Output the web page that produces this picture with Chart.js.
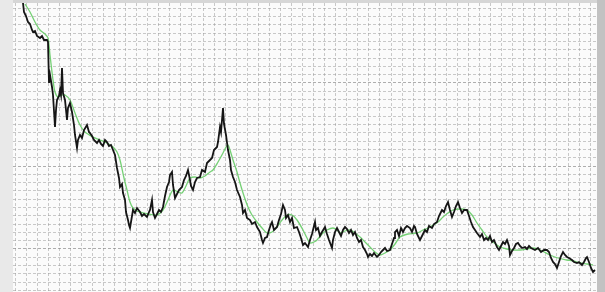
<!DOCTYPE html>
<html>
<head>
<meta charset="utf-8">
<script src="https://cdn.jsdelivr.net/npm/chart.js@4"></script>
<style>
  html, body { margin: 0; padding: 0; background: #e9e9e9; }
  #wrap { width: 605px; height: 292px; position: relative; }
</style>
</head>
<body>
<div id="wrap"><canvas id="chart"></canvas></div>
<script>
// price series (black)
var priceTime = [10,11,13,15,17,19,20,22,24,27,29,31,34,35,36,37,39,40,42,43,44,46,47,48,49,50,52,54,55,57,59,61,62,64,65,67,69,71,74,76,77,79,81,84,86,88,90,92,94,96,98,100,102,104,106,107,109,110,112,113,115,116,117,118,120,122,124,127,129,131,134,136,137,139,140,142,144,146,148,150,152,154,156,157,159,160,162,164,166,169,171,173,175,177,178,180,182,184,187,189,192,194,197,199,201,204,205,207,208,210,211,213,215,217,218,220,222,224,227,229,230,232,234,237,239,242,244,247,249,250,252,254,256,258,259,261,264,266,268,270,272,273,275,277,279,281,284,286,288,290,292,295,297,299,302,303,305,307,309,312,314,316,319,320,322,324,326,328,330,332,334,336,338,340,342,344,346,348,350,352,354,355,357,359,361,364,366,368,370,372,374,377,379,381,382,384,386,388,390,392,394,397,399,401,402,404,406,407,409,411,412,414,416,419,421,424,426,428,429,431,433,435,437,439,441,443,445,447,449,451,454,456,458,460,462,464,467,469,471,473,475,477,479,481,484,486,488,490,492,494,496,497,499,501,503,505,507,509,512,514,516,518,522,525,528,531,534,536,538,540,542,544,546,548,550,552,554,556,559,561,564,566,569,571,573,574,576,578,580,582];
var priceValue = [289,280,276,270,268,262,260,261,256,254,256,252,252,250,209,217,205,197,165,182,192,196,202,197,224,199,192,172,184,189,180,167,157,144,152,157,154,162,167,160,159,156,152,149,152,148,146,152,150,146,147,142,137,124,114,105,108,99,92,80,72,67,64,70,82,79,84,80,76,78,75,80,82,92,80,74,78,82,80,85,96,105,110,117,120,107,94,98,102,105,112,116,122,112,106,102,110,114,115,122,120,129,132,134,142,145,150,165,160,184,168,157,142,132,122,115,110,102,95,87,79,82,74,72,68,70,65,60,52,49,54,55,62,68,70,62,65,72,78,87,82,74,77,70,74,64,65,60,54,47,49,45,52,58,70,62,64,56,60,65,58,52,44,52,60,64,60,56,62,65,63,59,62,57,60,54,50,52,45,42,38,35,38,36,39,35,37,40,42,44,41,42,48,54,60,62,56,64,60,64,66,64,60,66,65,58,54,52,56,60,62,60,66,64,68,70,76,80,82,80,86,90,82,75,80,86,90,84,79,82,82,76,70,65,62,59,55,58,52,54,52,56,50,52,45,42,46,50,48,52,46,37,41,44,48,49,46,44,45,43,46,44,42,44,40,42,42,40,34,30,28,24,30,36,40,37,35,34,32,30,29,30,27,30,34,35,30,24,20,22];

// moving average (green)
var avgTime = [12,17,22,27,32,35,37,40,42,45,49,52,57,62,67,72,80,87,94,100,104,107,111,114,117,120,124,127,135,144,150,155,160,165,169,173,177,182,187,192,197,200,205,210,213,215,217,220,224,227,231,235,239,244,249,254,259,264,269,274,279,284,290,294,297,301,304,309,314,320,324,327,332,337,342,347,352,357,362,367,372,377,382,387,395,404,410,415,420,425,430,435,440,447,454,459,464,469,474,480,487,494,500,507,514,520,527,537,545,554,560,567,574,580];
var avgValue = [288,280,270,262,258,254,237,212,200,195,197,197,192,179,167,160,155,152,149,145,140,132,114,102,90,84,81,80,78,77,82,92,102,100,99,106,114,115,114,116,120,122,130,139,145,147,142,132,120,109,96,85,77,70,64,59,60,65,72,77,77,72,62,54,49,50,52,58,62,64,62,59,61,62,59,55,50,45,40,37,39,42,48,55,58,59,62,64,67,70,75,79,82,83,82,77,69,62,55,50,45,43,42,42,43,44,42,37,34,32,31,29,28,27];

// grid steps
var xGridStart = 2, xGridStep = 11.06, xGridCount = 53;
var yGridStart = 1.5, yGridStep = 8.3, yGridCount = 35;

function pairs(xs, ys) {
  return xs.map(function (x, i) { return { x: x, y: ys[i] }; });
}

var backdrop = {
  id: 'backdrop',
  beforeDraw: function (chart) {
    var c = chart.ctx, a = chart.chartArea;
    c.save();
    c.fillStyle = '#e9e9e9';
    c.fillRect(0, 0, chart.width, chart.height);
    c.fillStyle = '#d6d6d6';
    c.fillRect(a.left, 0, chart.width - a.left, a.top);
    c.fillStyle = '#c2c2c2';
    c.fillRect(a.right, 0, chart.width - a.right, chart.height);
    c.fillStyle = '#fbfbfb';
    c.fillRect(a.left, a.top, a.right - a.left, a.bottom - a.top);
    c.restore();
  }
};

new Chart(document.getElementById('chart'), {
  type: 'line',
  data: {
    datasets: [
      {
        label: 'price',
        data: pairs(priceTime, priceValue),
        borderColor: '#151515',
        borderWidth: 1.8,
        pointRadius: 0,
        tension: 0,
        order: 1
      },
      {
        label: 'average',
        data: pairs(avgTime, avgValue),
        borderColor: 'rgba(110,205,110,0.95)',
        borderWidth: 1.3,
        pointRadius: 0,
        tension: 0.3,
        order: 2
      }
    ]
  },
  options: {
    responsive: true,
    maintainAspectRatio: false,
    animation: false,
    layout: { padding: { left: 13, top: 3, right: 8, bottom: 0 } },
    plugins: { legend: { display: false }, tooltip: { enabled: false } },
    scales: {
      x: {
        type: 'linear',
        min: 0,
        max: 584,
        afterBuildTicks: function (scale) {
          var t = [];
          for (var k = 0; k < xGridCount; k++) t.push({ value: xGridStart + k * xGridStep });
          scale.ticks = t;
        },
        ticks: { display: false },
        grid: { color: 'rgba(150,150,150,0.5)', lineWidth: 1, drawTicks: false },
        border: { display: false, dash: [3, 2] }
      },
      y: {
        type: 'linear',
        min: 0,
        max: 289,
        afterBuildTicks: function (scale) {
          var t = [];
          for (var k = 0; k < yGridCount; k++) t.push({ value: yGridStart + k * yGridStep });
          scale.ticks = t;
        },
        ticks: { display: false },
        grid: {
          color: function (ctx) {
            return (ctx.index % 10 === 5) ? 'rgba(130,130,130,0.65)' : 'rgba(150,150,150,0.5)';
          },
          lineWidth: 1,
          drawTicks: false
        },
        border: { display: false, dash: [3, 2] }
      }
    }
  },
  plugins: [backdrop]
});
</script>
</body>
</html>
